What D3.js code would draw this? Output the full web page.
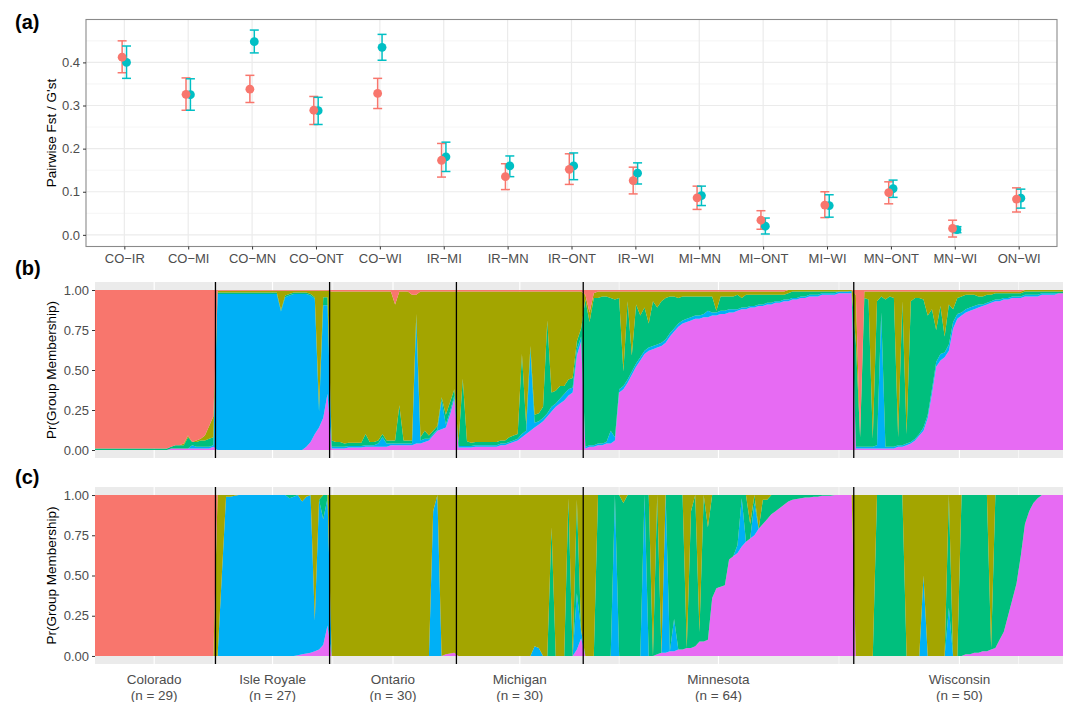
<!DOCTYPE html>
<html>
<head>
<meta charset="utf-8">
<script src="https://cdn.jsdelivr.net/npm/d3@7"></script>
<style>
  body { margin: 0; background: #fff; }
  text { font-family: "Liberation Sans", Arial, Helvetica, sans-serif; }
</style>
</head>
<body>
<svg id="chart" width="1070" height="702"></svg>
<script>
// ---------- (a) pairwise differentiation ----------
var pairs = ["CO\u2212IR", "CO\u2212MI", "CO\u2212MN", "CO\u2212ONT", "CO\u2212WI", "IR\u2212MI", "IR\u2212MN", "IR\u2212ONT",
             "IR\u2212WI", "MI\u2212MN", "MI\u2212ONT", "MI\u2212WI", "MN\u2212ONT", "MN\u2212WI", "ON\u2212WI"];
var fstVal = [0.412, 0.326, 0.338, 0.289, 0.328, 0.173, 0.135, 0.152, 0.126, 0.086, 0.034, 0.069, 0.098, 0.015, 0.083];
var fstLo  = [0.376, 0.289, 0.307, 0.256, 0.293, 0.134, 0.105, 0.117, 0.095, 0.059, 0.013, 0.040, 0.072, -0.005, 0.053];
var fstHi  = [0.450, 0.364, 0.370, 0.321, 0.363, 0.212, 0.165, 0.188, 0.157, 0.113, 0.056, 0.100, 0.123, 0.034, 0.109];
var gstVal = [0.400, 0.325, 0.448, 0.288, 0.435, 0.181, 0.160, 0.160, 0.143, 0.091, 0.020, 0.068, 0.107, 0.012, 0.085];
var gstLo  = [0.363, 0.289, 0.422, 0.256, 0.405, 0.147, 0.135, 0.128, 0.118, 0.068, 0.002, 0.041, 0.087, 0.005, 0.062];
var gstHi  = [0.438, 0.362, 0.475, 0.319, 0.465, 0.215, 0.183, 0.190, 0.167, 0.113, 0.039, 0.093, 0.127, 0.019, 0.106];
var fstTicks = [0, 0.1, 0.2, 0.3, 0.4];

// ---------- (b)/(c) membership ----------
var popNames = ["Colorado", "Isle Royale", "Ontario", "Michigan", "Minnesota", "Wisconsin"];
var popSizes = [29, 27, 30, 30, 64, 50];
var groupKeys = ["pink", "blue", "green", "olive", "red"];   // bottom -> top
var groupColors = ["#E76BF3", "#00B0F6", "#00BF7D", "#A3A500", "#F8766D"];
var probTicks = [0, 0.25, 0.5, 0.75, 1];

// run of a repeated reading
function rep(v, n) { var a = []; for (var k = 0; k < n; k++) a.push(v); return a; }

// panel (b), percent per individual
var bPink = [].concat(
  rep(0, 18), [1,1,1,1,1,1,1,1,1,1,2],
  rep(0, 21), [2,5,10,14,20,35],
  [1,1,1,1,1.5,1.5,1.5,1.5,2,2,2,2,2,2,3,3,3,3,3,3,4,4,5,6,9,12,13,14,22,32],
  [1.5,1.5,1.5,1.5,2,2,2,2,2,2,3,3,4,5,6,8,10,12,14,16,18,21,24,27,29,31,34,36,59,68],
  [1,2,2,3,3,4,4,6, 36,38,42,47,52,56,60,62, 63,64,65,67,71,74,77,79, 80,81,82,82,83,83,84,84,
   85,85,86,86,87,88,88,89, 89,90,90,91,91,92,92,93, 93,94,94,95,95,96,96,96, 97,97,97,97,98,98,98,98],
  [1,1,1,1,1,1,1,1,1,1, 2,2,3,4,6,9,12,20,35,52, 56,58,62,76,82,84,86,87,88,89,
   90,91,92,93,93,94,94,95,95,95, 96,96,96,96,97,97,97,97,98,98]
);
var bBlue = [].concat(
  rep(0, 23), [2,1,1,1,1,1],
  rep(98, 15), [87,96,97,98,98,98,96,92,85,10,70,55],
  [1,1,1,1,1,1,1,1,1,1,1,2,6,2,1,1,1,1,1,1,78,2,2,1,1,1,18,2,2,2],
  [1,1,1,1,1,1,1,1,1,1,1,1,1,1,1,2,2,50,3,2,2,2,3,2,3,4,4,3,4,3],
  [1,1,1,1,1,1,8,2, 2,2,2,2,2,2,2,2, 2,2,2,2,2,2,2,2, 2,2,2,2,2,4,2,2,
   2,2,2,2,1,1,1,1, 1,1,1,1,1,1,1,1, 1,1,1,1,1,1,1,1, 1,1,1,1,1,1,1,1],
  [1,1,1,1,1,2,85,1,1,1, 1,1,1,1,1,1,2,2,3,3, 4,3,4,4,3,2,2,2,2,2,
   1,1,1,1,1,1,1,1,1,1, 1,1,1,1,1,1,1,1,0,0]
);
var bGreen = [].concat(
  rep(1, 19), [2,2,2,7,2,3,4,4,5,5],
  rep(1, 24), [3,5,5],
  [4,3,3,2,2,2,2,2,7,2,2,2,2,2,2,2,24,2,2,2,3,2,5,2,2,2,2,6,6,4],
  [2,42,3,2,2,2,2,2,2,2,2,2,3,3,3,50,4,3,5,5,7,58,9,8,8,5,6,6,5,5],
  [92,77,92,91,92,91,83,86, 57,9,49,10,37,26,27,15, 28,23,26,26,23,20,16,15, 14,13,12,12,11,9,10,1,
   9,9,8,8,9,6,8,7, 7,6,6,5,5,4,4,3, 4,4,4,3,3,2,2,2, 1,1,1,1,0,0,0,0.5],
  [65,6,93,92,5,90,10,92,94,93, 5,90,6,88,88,85,80,62,50,20, 30,10,25,8,10,10,9,8,7,5,
   5,5,4,4,4,3,3,2,2,2, 2,2,2,2,1,1,1,1,1,1]
);
var bOlive = [].concat(
  rep(0, 21), [1,1,0,1,1,3,8,13],
  rep(1, 15), [12,3,2,1,1,1,1,2,4,72,4,4],
  [93,94,94,95,94.5,94.5,94.5,94.5,89,94,94,93,89,93,93,85,71,93,93,91,12,91,87,90,87,84,66,77,69,61],
  [94.5,54.5,93.5,94.5,94,94,94,94,94,94,93,93,91,90,89,39,83,34,77,76,72,18,63,62,59,59,55,54,31,23],
  [3,6,3,4,3,3,4,5, 4,50,6,40,8,15,10,20, 6,10,6,4,3,3,4,3, 3,3,3,3,3,3,3,12,
   3,3,3,3,2,4,2,2, 2,2,2,2,2,2,2,2, 2,1,1,1,1,1,1,1, 1,1,1,1,1,1,1,0.5],
  [30,1,4,5,92,6,3,5,3,4, 91,6,89,6,4,4,5,15,11,24, 9,28,8,11,4,3,2,2,2,3,
   3,2,2,1,1,1,1,1,1,1, 1,1,1,1,1,1,1,1,1,1]
);
var bRed = [].concat(
  rep(99, 18), [98,97,97,96,91,95,94,93,91,85,79],
  rep(0.5, 27),
  [1,1,1,1,1,1,1,1,1,1,1,1,1,1,1,9,1,1,1,3,3,1,1,1,1,1,1,1,1,1],
  rep(1, 30),
  [3,14,2,1,1,1,1,1], rep(1, 40), rep(0, 16),
  [3,92], rep(1, 38), rep(0, 10)
);

// panel (c), percent per individual
var cPink = [].concat(
  rep(0, 29),
  rep(0, 19), [0.5,1,1.5,2,3,4,7,19],
  rep(0, 27), [1,1.5,2],
  rep(0, 28), [4,11],
  rep(0, 17), [1,2,2,3,3,4,4,5,5,6,9,9,10,36,42,43,44,60,62,64,68,71,73,75,79,82,85,88,90,92,94,96,97,97.5,
               98,98.5,98.5,99,99,99.5,99.5,99.5,100,100,100,100,100],
  rep(0, 26), [1,1,2,2,3,3,4,5,10,15,25,35,45,62,82,90,95,98], rep(100, 6)
);
var cBlue = [].concat(
  rep(0, 29),
  [0,50,99,99,99.5], rep(100, 12), [98,99,99.5,95,97.5,98,19,93,78,79],
  rep(0, 24), [90,100], rep(0, 4),
  rep(0, 18), [6,5], rep(0, 8), [35,5],
  rep(0, 7), [100], rep(0, 6), [100], rep(0, 4), [100,0,20], rep(0, 14), [5,30,0,0,20], rep(0, 23),
  rep(0, 16), [50], rep(0, 5), [30], rep(0, 27)
);
var cGreen = [].concat(
  rep(0, 29),
  rep(0, 17), [2,1], rep(0, 6), [15,2],
  rep(0, 30),
  rep(0, 22), [80,0,0,0,98,0,58,0],
  [0,0,0], rep(100, 4), [0,100,95], rep(100, 4), [0,100,0,99,0,0],
  [97,77,96,96,0,85,94,6,91,70,64,58,57,56,40,38,31,2,29,9,5,0,15,12,12,10,8,6,4,3,2.5,2,1.5,1.5,1,1,0.5,0.5,0.5],
  rep(0, 5),
  rep(0, 5), rep(100, 7), rep(0, 4), [0], rep(0, 5), [70,0,0],
  [100,99,99,98,98,97,97,1,95,90,85,75,65,55,38,18,10,5,2], rep(0, 6)
);
var cOlive = [].concat(
  rep(0, 29),
  [100,50,1,1,0.5], rep(0, 12), [0,0,0,4,1,0,78,3,0,0],
  rep(100, 24), [10,0,100,99,98.5,98],
  rep(100, 18), [94,95,100,100,20,100,100,100,2,100,3,84],
  rep(100, 3), rep(0, 6), [5], rep(0, 6), [100,0,100,0],
  [0,0,0,0,95,10,0,85,0,20], rep(0, 9), [18,0,21,3,3], rep(0, 20),
  rep(100, 5), rep(0, 7), rep(100, 4), [50], rep(100, 5), [0,100,100], rep(0, 7), [95], rep(0, 17)
);
var cRed = [].concat(rep(100, 29), rep(0, 201));

// ---------- layout ----------
var svg = d3.select("#chart");
var sizeTick = "13px", sizeTitle = "13.5px";

function panelLabel(txt, y) {
  svg.append("text").attr("x", 15).attr("y", y)
    .attr("font-size", "20px").attr("font-weight", "bold").text(txt);
}

// ===== panel (a) =====
var aBox = {left: 86, right: 1057, top: 19.5, bottom: 246.5};
var xa = d3.scalePoint().domain(pairs).range([aBox.left, aBox.right]).padding(0.6);
var ya = d3.scaleLinear().domain([-0.027, 0.4995]).range([aBox.bottom, aBox.top]);
var pa = svg.append("g");

// minor grid
var yMinor = [0.05, 0.15, 0.25, 0.35, 0.45];
pa.selectAll(".ymin").data(yMinor).enter().append("line")
  .attr("x1", aBox.left).attr("x2", aBox.right)
  .attr("y1", function(d) { return ya(d); }).attr("y2", function(d) { return ya(d); })
  .attr("stroke", "#F0F0F0").attr("stroke-width", 0.7);
pa.selectAll(".ymaj").data(fstTicks).enter().append("line")
  .attr("x1", aBox.left).attr("x2", aBox.right)
  .attr("y1", function(d) { return ya(d); }).attr("y2", function(d) { return ya(d); })
  .attr("stroke", "#EBEBEB").attr("stroke-width", 1.2);
pa.selectAll(".xmaj").data(pairs).enter().append("line")
  .attr("x1", function(d) { return xa(d); }).attr("x2", function(d) { return xa(d); })
  .attr("y1", aBox.top).attr("y2", aBox.bottom)
  .attr("stroke", "#EBEBEB").attr("stroke-width", 1.2);

var dodge = 2.2;
var series = [
  {val: fstVal, lo: fstLo, hi: fstHi, color: "#F8766D", off: -dodge},
  {val: gstVal, lo: gstLo, hi: gstHi, color: "#00BFC4", off: dodge}
];
series.forEach(function(s) {
  var g = pa.append("g").attr("stroke", s.color).attr("stroke-width", 1.5).attr("fill", "none");
  pairs.forEach(function(p, i) {
    var cx = xa(p) + s.off;
    g.append("line").attr("x1", cx).attr("x2", cx).attr("y1", ya(s.lo[i])).attr("y2", ya(s.hi[i]));
    g.append("line").attr("x1", cx - 4.5).attr("x2", cx + 4.5).attr("y1", ya(s.lo[i])).attr("y2", ya(s.lo[i]));
    g.append("line").attr("x1", cx - 4.5).attr("x2", cx + 4.5).attr("y1", ya(s.hi[i])).attr("y2", ya(s.hi[i]));
  });
});
[series[1], series[0]].forEach(function(s) {
  pa.selectAll(null).data(pairs).enter().append("circle")
    .attr("cx", function(d) { return xa(d) + s.off; })
    .attr("cy", function(d, i) { return ya(s.val[i]); })
    .attr("r", 4.4).attr("fill", s.color);
});

pa.append("rect").attr("x", aBox.left).attr("y", aBox.top)
  .attr("width", aBox.right - aBox.left).attr("height", aBox.bottom - aBox.top)
  .attr("fill", "none").attr("stroke", "#8A8A8A").attr("stroke-width", 1.1);

var axA = pa.append("g").attr("transform", "translate(" + aBox.left + ",0)")
  .call(d3.axisLeft(ya).tickValues(fstTicks).tickSize(3).tickPadding(3).tickFormat(d3.format(".1f")));
var axAx = pa.append("g").attr("transform", "translate(0," + aBox.bottom + ")")
  .call(d3.axisBottom(xa).tickSize(3).tickPadding(4));
[axA, axAx].forEach(function(ax) {
  ax.select(".domain").remove();
  ax.selectAll(".tick line").attr("stroke", "#333");
  ax.selectAll(".tick text").attr("fill", "#4D4D4D").attr("font-size", sizeTick)
    .attr("font-family", "Liberation Sans, Arial, sans-serif");
});
svg.append("text").attr("transform", "translate(56,133) rotate(-90)")
  .attr("text-anchor", "middle").attr("font-size", sizeTitle).text("Pairwise Fst / G'st");
panelLabel("(a)", 29);

// ===== membership panels =====
var nInd = d3.sum(popSizes);
var xs = d3.scaleLinear().domain([1, nInd]).range([95, 1063]);
var centers = [], bounds = [];
popSizes.reduce(function(acc, n, k) {
  centers.push(acc + (n + 1) / 2);
  if (k < popSizes.length - 1) bounds.push(acc + n + 0.5);
  return acc + n;
}, 0);
// ggplot-style minor breaks between (and one past) the label breaks
var minorX = [];
var ext = [centers[0] - (centers[1] - centers[0])].concat(centers, [centers[centers.length - 1] + (centers[1] - centers[0])]);
for (var k = 0; k < ext.length - 1; k++) minorX.push((ext[k] + ext[k + 1]) / 2);

function memberPanel(top, bottom, cols) {
  var ys = d3.scaleLinear().domain([-0.05, 1.05]).range([bottom, top]);
  var g = svg.append("g");
  g.append("rect").attr("x", 95).attr("y", top).attr("width", 1063 - 95).attr("height", bottom - top)
    .attr("fill", "#EBEBEB");
  g.selectAll(".mx").data(minorX.filter(function(d) { return d > 1 && d < nInd; })).enter().append("line")
    .attr("x1", function(d) { return xs(d); }).attr("x2", function(d) { return xs(d); })
    .attr("y1", top).attr("y2", bottom).attr("stroke", "#fff").attr("stroke-width", 0.6);
  g.selectAll(".cx").data(centers).enter().append("line")
    .attr("x1", function(d) { return xs(d); }).attr("x2", function(d) { return xs(d); })
    .attr("y1", top).attr("y2", bottom).attr("stroke", "#fff").attr("stroke-width", 1.2);

  var rows = cols[0].map(function(v, i) {
    var r = {idx: i + 1};
    groupKeys.forEach(function(key, j) { r[key] = cols[j][i]; });
    return r;
  });
  var stacked = d3.stack().keys(groupKeys).offset(d3.stackOffsetExpand)(rows);
  var area = d3.area()
    .x(function(d) { return xs(d.data.idx); })
    .y0(function(d) { return ys(d[0]); })
    .y1(function(d) { return ys(d[1]); });
  g.selectAll(".layer").data(stacked).enter().append("path")
    .attr("d", area).attr("fill", function(d, j) { return groupColors[j]; });

  g.selectAll(".bound").data(bounds).enter().append("line")
    .attr("x1", function(d) { return xs(d); }).attr("x2", function(d) { return xs(d); })
    .attr("y1", top).attr("y2", bottom).attr("stroke", "#000").attr("stroke-width", 1.3);

  var ax = g.append("g").attr("transform", "translate(95,0)")
    .call(d3.axisLeft(ys).tickValues(probTicks).tickSize(3).tickPadding(3).tickFormat(d3.format(".2f")));
  ax.select(".domain").remove();
  ax.selectAll(".tick line").attr("stroke", "#333");
  ax.selectAll(".tick text").attr("fill", "#4D4D4D").attr("font-size", sizeTick)
    .attr("font-family", "Liberation Sans, Arial, sans-serif");
  svg.append("text").attr("transform", "translate(56," + ((top + bottom) / 2) + ") rotate(-90)")
    .attr("text-anchor", "middle").attr("font-size", sizeTitle).text("Pr(Group Membership)");
  return g;
}

memberPanel(282, 458, [bPink, bBlue, bGreen, bOlive, bRed]);
panelLabel("(b)", 275);
memberPanel(487, 664, [cPink, cBlue, cGreen, cOlive, cRed]);
panelLabel("(c)", 484);

// population labels under (c)
var lab = svg.append("g").attr("font-size", "13.5px").attr("fill", "#4D4D4D").attr("text-anchor", "middle");
popNames.forEach(function(name, k) {
  var t = lab.append("text").attr("x", xs(centers[k])).attr("y", 684);
  t.append("tspan").attr("x", xs(centers[k])).text(name);
  t.append("tspan").attr("x", xs(centers[k])).attr("dy", 15.5).text("(n = " + popSizes[k] + ")");
});
</script>
</body>
</html>
